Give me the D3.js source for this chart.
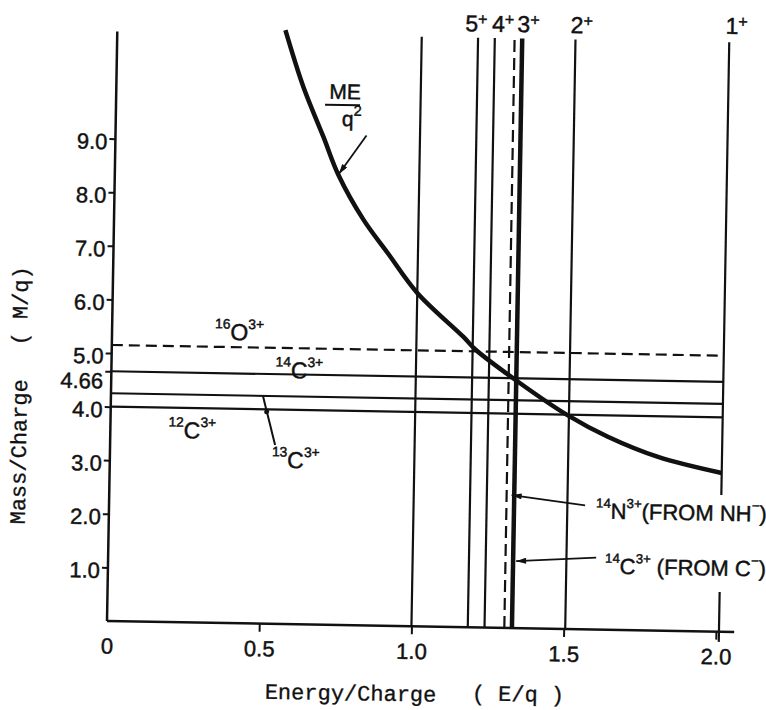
<!DOCTYPE html>
<html>
<head>
<meta charset="utf-8">
<script src="https://cdn.jsdelivr.net/npm/d3@7"></script>
<style>
  body { margin: 0; background: #fff; }
  svg { display: block; }
  text { font-family: "Liberation Sans", Arial, sans-serif; fill: #111; stroke: #111; stroke-width: 0.45px; }
  .mono { font-family: "Liberation Mono", "Courier New", monospace; stroke-width: 0.3px; }
</style>
</head>
<body>
<div id="chart"></div>
<script>
// values

const xTicks = [0, 0.5, 1.0, 1.5, 2.0];
const yTicks = [1, 2, 3, 4, 4.66, 5, 6, 7, 8, 9];

// charge state lines (E/q)
const chargeNames = ['5', '4', '3', '2', '1'];
const chargeEq = [1.185, 1.24, 1.33, 1.505, 2.01];
const plainEq = 1.0;       // unlabeled line
const nitrogenEq = 1.305;  // 14N3+ (from NH-), dashed

// ion lines (M/q)
const ionNames = ['^16|O|^3+', '^14|C|^3+', '^13|C|^3+', '^12|C|^3+'];
const ionMq = [5.15, 4.66, 4.25, 4.0];

// ME/q^2 curve
const curveEq = [0.552, 0.614, 0.683, 0.734, 0.819, 0.90, 1.0, 1.155, 1.195, 1.33, 1.50, 1.634, 1.80, 2.01];
const curveMq = [11.08, 10.03, 9.10, 8.40, 7.57, 6.96, 6.22, 5.41, 5.18, 4.62, 3.99, 3.60, 3.24, 2.96];

const width = 766, height = 710;
const ink = '#111';

const x = d3.scaleLinear().domain([0, 2]).range([107, 716]);
const y = d3.scaleLinear().domain([0, 11]).range([621, 31.4]);

const svg = d3.select('#chart').append('svg')
    .attr('width', width)
    .attr('height', height);

svg.append('defs').append('marker')
    .attr('id', 'arrow')
    .attr('viewBox', '0 0 10 6')
    .attr('refX', 10).attr('refY', 3)
    .attr('markerWidth', 11).attr('markerHeight', 6)
    .attr('markerUnits', 'userSpaceOnUse')
    .attr('orient', 'auto')
  .append('path')
    .attr('d', 'M0,0L10,3L0,6Z')
    .attr('fill', ink);

// the scan is tilted by about one degree
const g = svg.append('g')
    .attr('transform', `rotate(1, ${x(0)}, ${y(0)})`);

// text with superscript parts, '^' marks a raised part
function richText(sel, px, py, spec, size, supScale) {
  const ratio = supScale || 0.6;
  const t = sel.append('text').attr('x', px).attr('y', py).attr('font-size', size);
  let shift = 0;
  spec.split('|').forEach(p => {
    const sup = p[0] === '^';
    const target = sup ? -size * 0.5 : 0;
    t.append('tspan')
        .attr('dy', target - shift)
        .attr('font-size', sup ? size * ratio : size)
        .text(sup ? p.slice(1) : p);
    shift = target;
  });
  return t;
}

// axes
const xAxis = g.append('g')
    .attr('transform', `translate(0,${y(0)})`)
    .call(d3.axisBottom(x).tickValues(xTicks).tickSize(8).tickPadding(9)
      .tickFormat(d => d === 0 ? '0' : d3.format('.1f')(d)));
xAxis.select('.domain').remove();
xAxis.selectAll('.tick').filter(d => d === 0).select('line').remove();
xAxis.attr('font-family', null).attr('font-size', 22);
xAxis.selectAll('line').attr('stroke', ink).attr('stroke-width', 2);

const yAxis = g.append('g')
    .attr('transform', `translate(${x(0)},0)`)
    .call(d3.axisLeft(y).tickValues(yTicks).tickSize(6).tickPadding(2)
      .tickFormat(d => d === 4.66 ? '4.66' : d3.format('.1f')(d)));
yAxis.select('.domain').remove();
yAxis.attr('font-family', null).attr('font-size', 22);
yAxis.selectAll('text').attr('dy', d => d === 4.66 ? '0.77em' : '0.46em');
yAxis.selectAll('line').attr('stroke', ink).attr('stroke-width', 2);

g.append('line')
    .attr('x1', x(0)).attr('y1', y(0)).attr('x2', x(0)).attr('y2', y(11))
    .attr('stroke', ink).attr('stroke-width', 2.5);
g.append('line')
    .attr('x1', x(0)).attr('y1', y(0)).attr('x2', x(2.06)).attr('y2', y(0))
    .attr('stroke', ink).attr('stroke-width', 2.5);

// horizontal ion lines
g.append('g').selectAll('line')
  .data(ionMq)
  .join('line')
    .attr('x1', x(0)).attr('x2', x(chargeEq[4]))
    .attr('y1', d => y(d)).attr('y2', d => y(d))
    .attr('stroke', ink)
    .attr('stroke-width', 2.2)
    .attr('stroke-dasharray', (d, i) => i === 0 ? '11,6' : null);

// vertical lines
function vline(e, m0, m1) {
  return g.append('line')
      .attr('x1', x(e)).attr('x2', x(e))
      .attr('y1', y(m0)).attr('y2', y(m1))
      .attr('stroke', ink).attr('stroke-width', 2.2);
}
vline(plainEq, 0, 11);
vline(nitrogenEq, 0, 11).attr('stroke-dasharray', '12,6');
chargeEq.forEach((e, i) => {
  if (i === 4) {
    // the 1+ line is broken where the labels sit
    vline(e, 11, 2.55);
    vline(e, 0.74, -0.19);
  } else {
    vline(e, 0, 11).attr('stroke-width', i === 2 ? 4.5 : 2.2);
  }
});

// ME/q^2 curve
const line = d3.line()
    .x(d => x(d[0]))
    .y(d => y(d[1]))
    .curve(d3.curveCatmullRom);
g.append('path')
    .datum(d3.zip(curveEq, curveMq))
    .attr('d', line)
    .attr('fill', 'none')
    .attr('stroke', ink)
    .attr('stroke-width', 4.5);

// charge labels
const chargeOffsets = [-13, -3, -5, -5, -4];
chargeNames.forEach((c, i) => {
  const t = g.append('text')
      .attr('x', x(chargeEq[i]) + chargeOffsets[i])
      .attr('y', i === 4 ? 23 : 25)
      .attr('font-size', 23);
  t.append('tspan').text(c);
  t.append('tspan').attr('dy', -7).attr('font-size', 16).text('+');
});

// ion labels
const ionPos = [[210, 338], [271, 375], [269, 465], [165, 437]];
ionNames.forEach((n, i) => richText(g, ionPos[i][0], ionPos[i][1], n, 23));

// 13C leader
g.append('line')
    .attr('x1', 272).attr('y1', 442).attr('x2', 259).attr('y2', y(ionMq[2]))
    .attr('stroke', ink).attr('stroke-width', 2);
g.append('circle').attr('cx', 263).attr('cy', 409).attr('r', 2.5).attr('fill', ink);

// ME / q^2 label
g.append('text').attr('x', 320).attr('y', 95).attr('font-size', 21).text('ME');
g.append('line')
    .attr('x1', 316).attr('x2', 351).attr('y1', 101).attr('y2', 101)
    .attr('stroke', ink).attr('stroke-width', 2);
richText(g, 333, 122, 'q|^2', 21, 0.7);
g.append('line')
    .attr('x1', 358).attr('y1', 131).attr('x2', 331).attr('y2', 170)
    .attr('stroke', ink).attr('stroke-width', 1.8)
    .attr('marker-end', 'url(#arrow)');

// source labels
richText(g, 594, 510, '^14|N|^3+|(FROM NH|^\u2212|)', 22);
g.append('line')
    .attr('x1', 583).attr('y1', 497).attr('x2', x(nitrogenEq) + 5).attr('y2', 488)
    .attr('stroke', ink).attr('stroke-width', 1.8)
    .attr('marker-end', 'url(#arrow)');

richText(g, 604, 565, '^14|C|^3+| (FROM C|^\u2212|)', 22);
g.append('line')
    .attr('x1', 595).attr('y1', 549).attr('x2', x(chargeEq[2]) + 3).attr('y2', 554)
    .attr('stroke', ink).attr('stroke-width', 1.8)
    .attr('marker-end', 'url(#arrow)');

// axis titles
g.append('text').attr('class', 'mono').attr('font-size', 22)
    .attr('x', 266).attr('y', 696).text('Energy/Charge');
g.append('text').attr('class', 'mono').attr('font-size', 22)
    .attr('x', 473).attr('y', 694).text('( E/q )');
g.append('text').attr('class', 'mono').attr('font-size', 22)
    .attr('transform', 'translate(23,526) rotate(-90)').text('Mass/Charge');
g.append('text').attr('class', 'mono').attr('font-size', 22)
    .attr('transform', 'translate(22,347) rotate(-90)').text('( M/q)');
</script>
</body>
</html>
